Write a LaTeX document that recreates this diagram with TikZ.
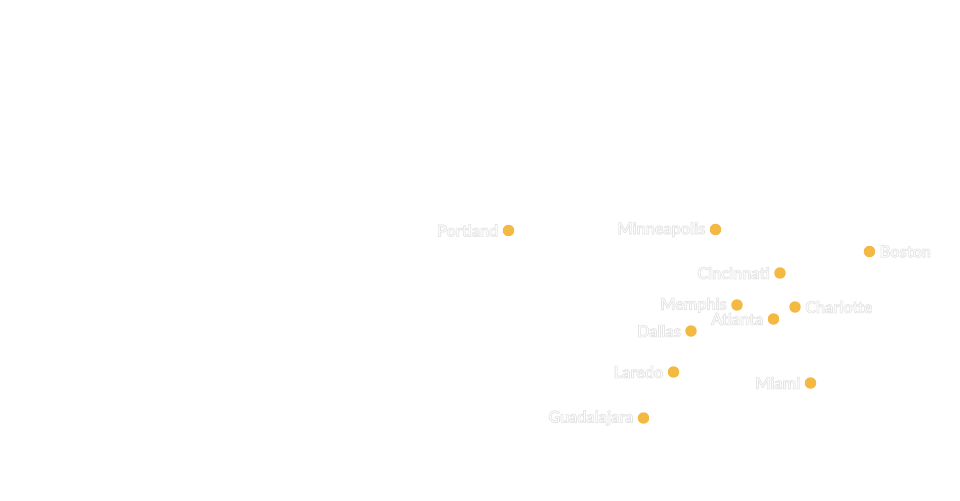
\documentclass[tikz,border=0pt]{standalone}
\usepackage{fontspec}
\setmainfont{Lato}
\usetikzlibrary{positioning}

\definecolor{cityorange}{HTML}{F4B942}

% white letters with a pale grey rim
\newcommand{\halotext}[1]{\special{pdf:code q 2 Tr 0.6 w 0.9 G 1 g}#1\special{pdf:code Q}}

\tikzset{
	citydot/.style = {circle, fill=cityorange, inner sep=0pt, minimum size=8.6pt},
	citylabel/.style = {inner sep=0pt, text=white, font=\bfseries\fontsize{12.1pt}{13pt}\selectfont}
}

\begin{document}
\begin{tikzpicture}[x=0.75pt, y=-0.75pt]
	\useasboundingbox (0,0) rectangle (960,500);
	\node[citydot] (portland) at (508.5,230.5) {};
	\node[citydot] (minneapolis) at (715.5,229.5) {};
	\node[citydot] (boston) at (869.5,251.5) {};
	\node[citydot] (cincinnati) at (780,273) {};
	\node[citydot] (memphis) at (737,305) {};
	\node[citydot] (charlotte) at (795,307) {};
	\node[citydot] (atlanta) at (773.5,319) {};
	\node[citydot] (dallas) at (691,331) {};
	\node[citydot] (laredo) at (673.5,372) {};
	\node[citydot] (miami) at (810.5,383) {};
	\node[citydot] (guadalajara) at (643.5,418) {};
	\node[citylabel, left=3pt of portland] (portlandlabel) {\halotext{Portland}};
	\node[citylabel, left=3pt of minneapolis] (minneapolislabel) {\halotext{Minneapolis}};
	\node[citylabel, right=3pt of boston] (bostonlabel) {\halotext{Boston}};
	\node[citylabel, left=3pt of cincinnati] (cincinnatilabel) {\halotext{Cincinnati}};
	\node[citylabel, left=3pt of memphis] (memphislabel) {\halotext{Memphis}};
	\node[citylabel, right=3pt of charlotte] (charlottelabel) {\halotext{Charlotte}};
	\node[citylabel, left=3pt of atlanta] (atlantalabel) {\halotext{Atlanta}};
	\node[citylabel, left=3pt of dallas] (dallaslabel) {\halotext{Dallas}};
	\node[citylabel, left=3pt of laredo] (laredolabel) {\halotext{Laredo}};
	\node[citylabel, left=3pt of miami] (miamilabel) {\halotext{Miami}};
	\node[citylabel, left=3pt of guadalajara] (guadalajaralabel) {\halotext{Guadalajara}};
\end{tikzpicture}
\end{document}
